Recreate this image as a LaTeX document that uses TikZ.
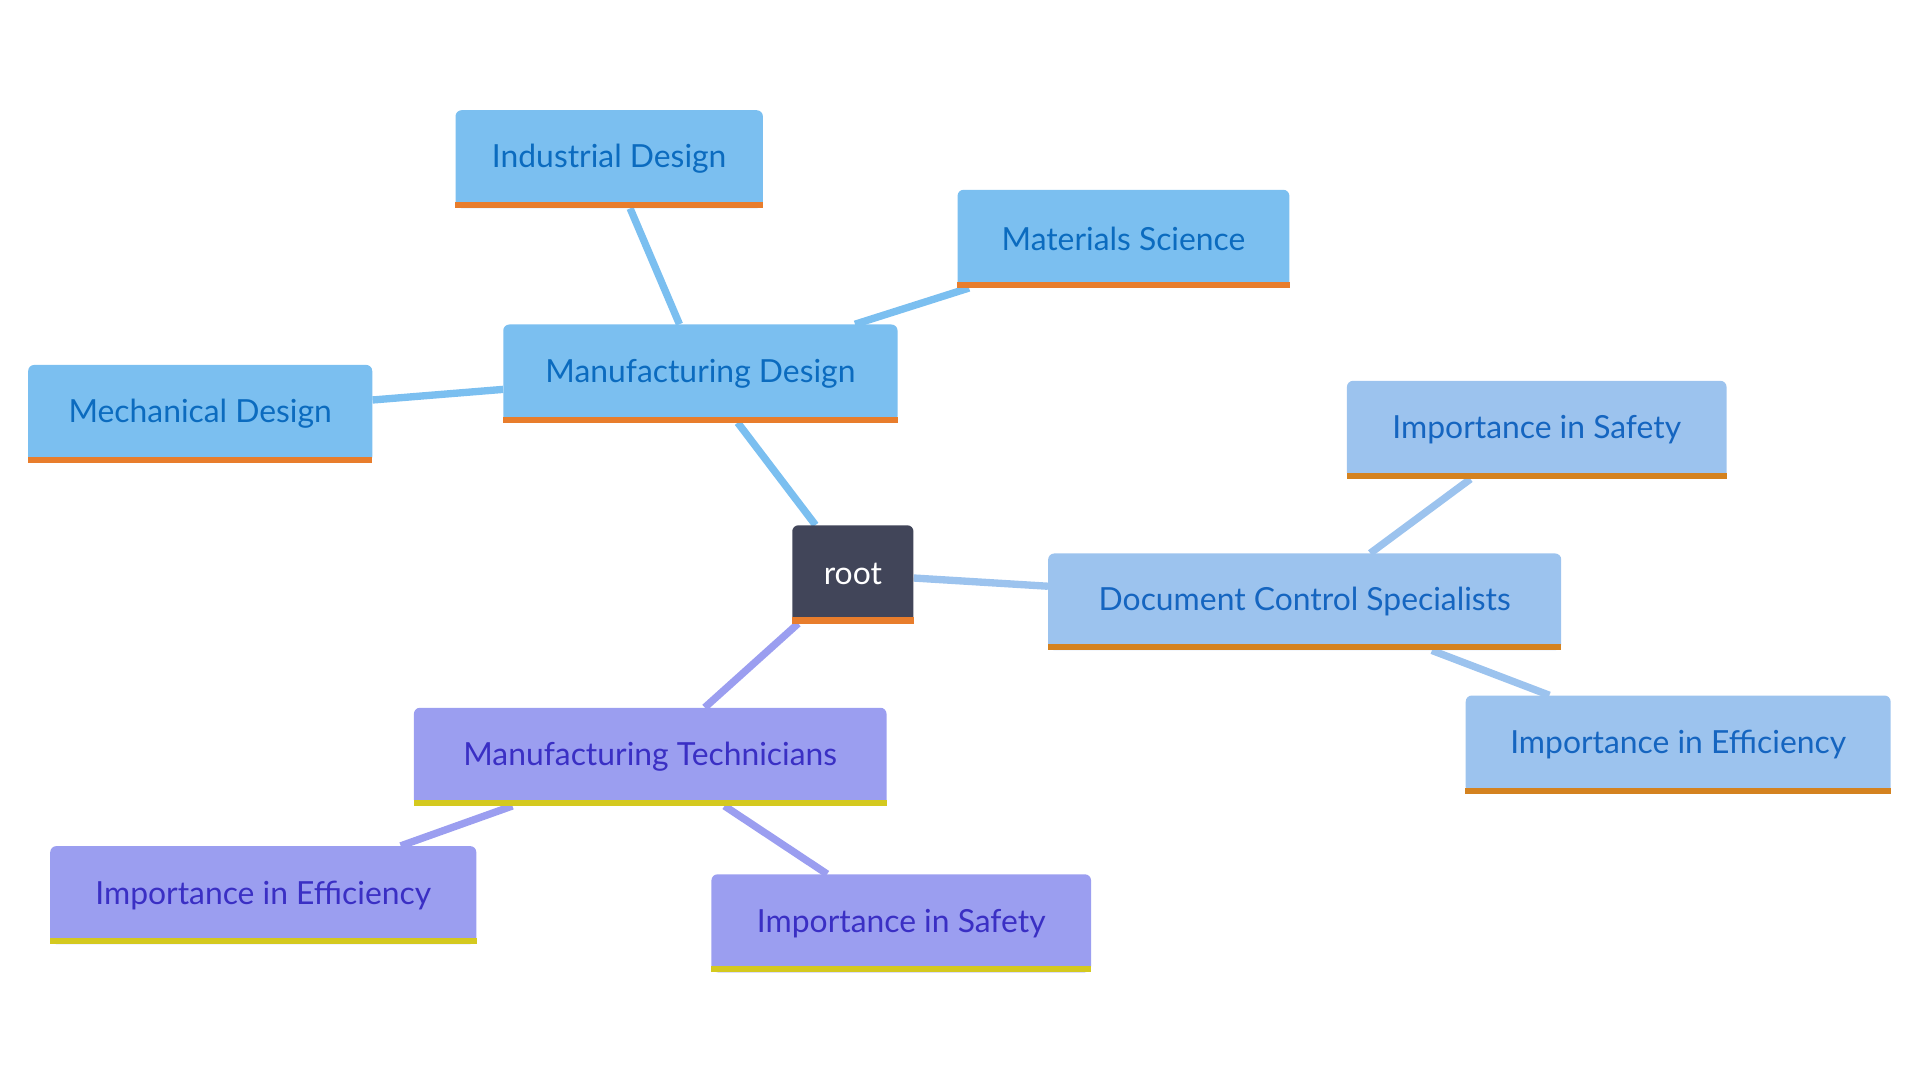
\documentclass[tikz,border=0pt]{standalone}
\usepackage{fontspec}
\setmainfont{Lato}
\usetikzlibrary{backgrounds}
\definecolor{bA}{HTML}{7BBFF0}\definecolor{tA}{HTML}{0B6BBF}
\definecolor{bB}{HTML}{9CC3EE}\definecolor{tB}{HTML}{1565C0}
\definecolor{bC}{HTML}{9B9EF0}\definecolor{tC}{HTML}{3A2FC4}
\definecolor{oA}{HTML}{E87D2C}\definecolor{oB}{HTML}{D4821F}\definecolor{yC}{HTML}{D4C91F}
\definecolor{rootc}{HTML}{414559}
\tikzset{box/.style={rounded corners=5pt,inner sep=0pt,font=\fontsize{26}{30}\selectfont},
 edge/.style={line width=6pt}}
\newcommand{\mn}[9]{\node[box,fill=#6,text=#8,minimum width={(#4-#2)*1pt},minimum height={(#5-#3)*1pt}] (#1) at ({(#2+#4)/2},{(#3+#5)/2}) {#9};
\fill[#7] (#1.south west) rectangle ([yshift=5pt]#1.south east);}
\begin{document}
\begin{tikzpicture}[x=1pt,y=-1pt]
\useasboundingbox (0,0) rectangle (1568,882);
\mn{ind}{372}{90}{623}{170}{bA}{oA}{tA}{Industrial Design}
\mn{mat}{782}{155}{1053}{235}{bA}{oA}{tA}{Materials Science}
\mn{md}{411}{265}{733}{345}{bA}{oA}{tA}{Manufacturing Design}
\mn{mech}{23}{298}{304}{378}{bA}{oA}{tA}{Mechanical Design}
\mn{root}{647}{429}{746}{509}{rootc}{oA}{white}{root}
\mn{dcs}{856}{452}{1275}{531}{bB}{oB}{tB}{Document Control Specialists}
\mn{rs}{1100}{311}{1410}{391}{bB}{oB}{tB}{Importance in Safety}
\mn{re}{1197}{568}{1544}{648}{bB}{oB}{tB}{Importance in Efficiency}
\mn{mt}{338}{578}{724}{658}{bC}{yC}{tC}{Manufacturing Technicians}
\mn{le}{41}{691}{389}{771}{bC}{yC}{tC}{Importance in Efficiency}
\mn{ls}{581}{714}{891}{794}{bC}{yC}{tC}{Importance in Safety}
\begin{scope}[on background layer]
\draw[edge,bA] (root) -- (md) (md) -- (ind) (md) -- (mat) (md) -- (mech);
\draw[edge,bB] (root) -- (dcs) (dcs) -- (rs) (dcs) -- (re);
\draw[edge,bC] (root) -- (mt) (mt) -- (le) (mt) -- (ls);
\end{scope}
\end{tikzpicture}
\end{document}
